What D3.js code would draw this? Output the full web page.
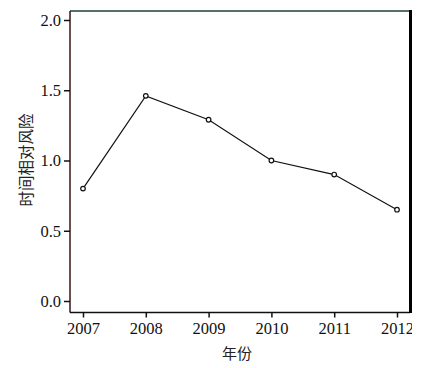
<!DOCTYPE html>
<html>
<head>
<meta charset="utf-8">
<script src="https://cdn.jsdelivr.net/npm/d3@7"></script>
<style>
  body { margin: 0; background: #fff; }
  svg { display: block; }
  .tick text { font-family: "Liberation Serif", "Times New Roman", serif; font-size: 16.5px; fill: #111; }
</style>
</head>
<body>
<div id="chart"></div>
<script>
// years on the x axis and the relative risk
const years = [2007, 2008, 2009, 2010, 2011, 2012];
const risk = [0.80, 1.46, 1.29, 1.00, 0.90, 0.65];
const yTicks = [0, 0.5, 1.0, 1.5, 2.0];

const W = 432, H = 368;
const frame = { left: 70, top: 11, right: 410, bottom: 312.5 };

const svg = d3.select("#chart").append("svg")
  .attr("width", W)
  .attr("height", H);

const x = d3.scalePoint()
  .domain(years)
  .range([83, 397]);

const y = d3.scaleLinear()
  .domain([0, 2])
  .range([301, 20]);

// frame of the plot area
svg.append("line")
  .attr("x1", frame.left).attr("x2", frame.right)
  .attr("y1", frame.top).attr("y2", frame.top)
  .attr("stroke", "#1d3f3a").attr("stroke-width", 1.5);
svg.append("line")
  .attr("x1", frame.left).attr("x2", frame.left)
  .attr("y1", frame.top).attr("y2", frame.bottom)
  .attr("stroke", "#3a1515").attr("stroke-width", 1.5);
svg.append("line")
  .attr("x1", frame.left).attr("x2", frame.right)
  .attr("y1", frame.bottom).attr("y2", frame.bottom)
  .attr("stroke", "#111").attr("stroke-width", 1.5);

// y axis
const yAxis = svg.append("g")
  .attr("transform", `translate(${frame.left},0)`)
  .call(d3.axisLeft(y).tickValues(yTicks).tickFormat(d3.format(".1f")).tickSize(6).tickPadding(3));
yAxis.select(".domain").remove();
yAxis.selectAll(".tick line").attr("stroke", "#111").attr("stroke-width", 1.5);

// x axis
const xAxis = svg.append("g")
  .attr("transform", `translate(0,${frame.bottom})`)
  .call(d3.axisBottom(x).tickSize(5).tickPadding(5).tickFormat(d3.format("d")));
xAxis.select(".domain").remove();
xAxis.selectAll(".tick line").attr("stroke", "#111").attr("stroke-width", 1.5);

// series line and open circle markers
const line = d3.line()
  .x((d, i) => x(years[i]))
  .y(d => y(d));

svg.append("path")
  .datum(risk)
  .attr("fill", "none")
  .attr("stroke", "#111")
  .attr("stroke-width", 1.2)
  .attr("d", line);

svg.selectAll(".pt")
  .data(risk)
  .enter()
  .append("circle")
  .attr("class", "pt")
  .attr("cx", (d, i) => x(years[i]))
  .attr("cy", d => y(d))
  .attr("r", 2.3)
  .attr("fill", "#fff")
  .attr("stroke", "#111")
  .attr("stroke-width", 1.2);

// the source image is cut off just right of the frame
svg.append("rect")
  .attr("x", 412).attr("y", 0)
  .attr("width", W - 412).attr("height", H)
  .attr("fill", "#fff");

// thick right border
svg.append("line")
  .attr("x1", frame.right + 0.5).attr("x2", frame.right + 0.5)
  .attr("y1", frame.top - 1).attr("y2", frame.bottom + 0.5)
  .attr("stroke", "#000").attr("stroke-width", 3);

// axis titles
svg.append("text")
  .attr("x", 237)
  .attr("y", 359)
  .attr("text-anchor", "middle")
  .attr("font-family", "'Noto Sans CJK SC', sans-serif")
  .attr("font-size", 15)
  .attr("fill", "#222")
  .text("年份");

svg.append("text")
  .attr("transform", "translate(32,160) rotate(-90)")
  .attr("text-anchor", "middle")
  .attr("font-family", "'Noto Sans CJK SC', sans-serif")
  .attr("font-size", 15.5)
  .attr("fill", "#222")
  .text("时间相对风险");
</script>
</body>
</html>
